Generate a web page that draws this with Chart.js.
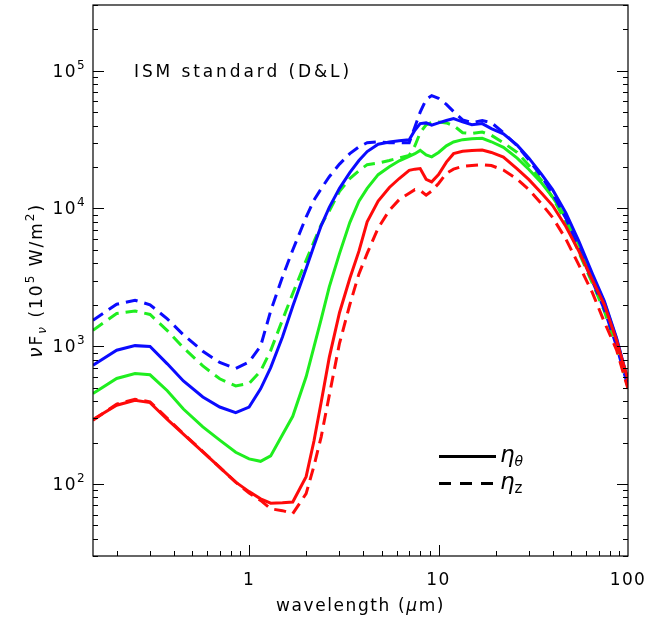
<!DOCTYPE html>
<html>
<head>
<meta charset="utf-8">
<script src="https://cdn.jsdelivr.net/npm/chart.js@4"></script>
<style>
  html, body { margin: 0; padding: 0; background: #fff; }
  canvas { display: block; }
</style>
</head>
<body>
<canvas id="chart" width="667" height="620"></canvas>
<script>
// wavelength grid in micron
const wavelength = [0.15, 0.2, 0.25, 0.3, 0.37, 0.45, 0.57, 0.7, 0.85, 1.0, 1.15, 1.3, 1.5, 1.7, 2.0, 2.2, 2.4, 2.65, 3.0, 3.4, 3.8, 4.2, 4.8, 5.5, 6.2, 7.0, 7.5, 8.0, 8.6, 9.2, 10, 11, 12, 13.4, 15, 17, 19, 22, 26, 30, 35, 40, 47, 55, 65, 75, 87, 100];

// nu F_nu in units of 1e-5 W/m^2, solid = eta_theta, dashed = eta_z
const blueTheta = [728, 936, 1010, 995, 745, 560, 428, 362, 330, 362, 490, 700, 1168, 1950, 3660, 5370, 7480, 10200, 14000, 18200, 22300, 25900, 29300, 30400, 31000, 31500, 37000, 41300, 41800, 40200, 41800, 43500, 45000, 42500, 40600, 41300, 38000, 34800, 28800, 23200, 17700, 13700, 9300, 5800, 3340, 2130, 1150, 560];
const blueZ = [1545, 2018, 2158, 2000, 1580, 1210, 920, 762, 690, 769, 1000, 1800, 3185, 5000, 8670, 11500, 13900, 17000, 21000, 25000, 28000, 30000, 30500, 30000, 30000, 30000, 39000, 50000, 62000, 66000, 63000, 57000, 50500, 44000, 42000, 43500, 42000, 35500, 28500, 22500, 17000, 12800, 8500, 5100, 2950, 1850, 1000, 510];
const greenTheta = [454, 583, 634, 620, 475, 350, 260, 208, 170, 152, 146, 160, 228, 310, 600, 990, 1567, 2700, 4700, 7900, 11300, 14000, 17600, 20100, 22200, 23900, 25000, 26400, 24500, 23700, 25500, 28500, 30400, 31600, 32100, 32300, 30500, 27800, 23200, 19200, 15300, 12100, 8600, 5500, 3200, 2080, 1130, 550];
const greenZ = [1306, 1727, 1803, 1700, 1300, 975, 720, 580, 515, 536, 660, 930, 1550, 2415, 4200, 5740, 7600, 9600, 13300, 16500, 18800, 20800, 21400, 22300, 23300, 24300, 28500, 35500, 40500, 42000, 42500, 41800, 40000, 35500, 35000, 35900, 34000, 30000, 25500, 20500, 16000, 12000, 8000, 4800, 2850, 1800, 980, 500];
const redTheta = [294, 373, 405, 390, 294, 230, 171, 132, 103, 88, 78, 72.5, 73, 74, 113, 205, 390, 830, 1750, 3100, 4900, 8000, 11300, 14200, 16500, 18900, 19300, 19500, 16300, 15600, 17600, 21700, 25000, 26000, 26400, 26600, 25500, 23600, 19400, 16200, 12900, 10500, 7400, 4900, 3000, 2000, 1100, 570];
const redZ = [290, 380, 412, 395, 300, 232, 172, 132, 103, 86, 76, 66, 64, 61, 85, 135, 219, 440, 1050, 2000, 3350, 4720, 7200, 9700, 11600, 12900, 13700, 13500, 12500, 13400, 15200, 18000, 19300, 20200, 20500, 20800, 20500, 19000, 16300, 13700, 10800, 8600, 6000, 3900, 2430, 1500, 940, 490];

const xTickLabels = ['1', '10', '100'];
const yTickExponents = ['2', '3', '4', '5'];

const FONT = '"DejaVu Sans", sans-serif';
const BLUE = '#0b0bff';
const GREEN = '#1fee1f';
const RED = '#ff0a0a';

function points(values) {
	return wavelength.map(function (w, i) {
		return { x: w, y: values[i] };
	});
}

function line(values, color, dashed) {
	return {
		data: points(values),
		borderColor: color,
		borderWidth: 3,
		borderDash: dashed ? [12, 7] : [],
		pointRadius: 0,
		tension: 0,
		fill: false
	};
}

// draws a row of text pieces (sub/superscripts) starting at x, or centred/right aligned
function drawRuns(ctx, runs, x, y, align, spacing) {
	ctx.letterSpacing = (spacing || 0) + 'px';
	let total = 0;
	runs.forEach(function (r) {
		ctx.font = (r.italic ? 'italic ' : '') + r.size + 'px ' + FONT;
		r.w = ctx.measureText(r.text).width;
		total += r.w;
	});
	let cx = x;
	if (align === 'center') cx = x - total / 2;
	if (align === 'right') cx = x - total;
	ctx.textAlign = 'left';
	ctx.textBaseline = 'alphabetic';
	runs.forEach(function (r) {
		ctx.font = (r.italic ? 'italic ' : '') + r.size + 'px ' + FONT;
		ctx.fillText(r.text, cx, y - (r.raise || 0));
		cx += r.w;
	});
	ctx.letterSpacing = '0px';
}

const idlFrame = {
	id: 'idlFrame',
	beforeDraw(chart) {
		const ctx = chart.ctx;
		ctx.save();
		ctx.fillStyle = '#fff';
		ctx.fillRect(0, 0, chart.width, chart.height);
		ctx.restore();
	},
	afterDraw(chart) {
		const ctx = chart.ctx;
		const a = chart.chartArea;
		const xs = chart.scales.x;
		const ys = chart.scales.y;
		ctx.save();
		ctx.strokeStyle = '#000';
		ctx.fillStyle = '#000';
		ctx.lineWidth = 1.2;
		ctx.strokeRect(a.left, a.top, a.right - a.left, a.bottom - a.top);

		// inward ticks, bottom axis
		ctx.lineWidth = 1;
		[0.1, 1, 10].forEach(function (dec) {
			for (let m = 1; m <= 9; m++) {
				const v = m * dec;
				if (v < xs.min || v > xs.max) continue;
				const px = Math.round(xs.getPixelForValue(v)) + 0.5;
				const len = m === 1 ? 11 : 5;
				ctx.beginPath();
				ctx.moveTo(px, a.bottom);
				ctx.lineTo(px, a.bottom - len);
				ctx.stroke();
			}
		});
		// inward ticks, left and right axes
		[10, 100, 1000, 10000, 100000].forEach(function (dec) {
			for (let m = 1; m <= 9; m++) {
				const v = m * dec;
				if (v < ys.min || v > ys.max) continue;
				const py = Math.round(ys.getPixelForValue(v)) + 0.5;
				const len = m === 1 ? 11 : 5;
				ctx.beginPath();
				ctx.moveTo(a.left, py);
				ctx.lineTo(a.left + len, py);
				ctx.moveTo(a.right, py);
				ctx.lineTo(a.right - len, py);
				ctx.stroke();
			}
		});

		// tick labels
		xTickLabels.forEach(function (t) {
			const px = xs.getPixelForValue(parseFloat(t));
			drawRuns(ctx, [{ text: t, size: 17 }], px, 585, 'center', 1.4);
		});
		yTickExponents.forEach(function (e) {
			const py = ys.getPixelForValue(Math.pow(10, parseInt(e, 10)));
			drawRuns(ctx, [{ text: '10', size: 17 }, { text: e, size: 12, raise: 8 }], 86, py + 6, 'right', 1.4);
		});

		// axis titles
		drawRuns(ctx, [{ text: 'wavelength (', size: 17 }, { text: 'μ', size: 17, italic: true }, { text: 'm)', size: 17 }],
			(a.left + a.right) / 2, 611, 'center', 1.6);
		ctx.save();
		ctx.translate(42, (a.top + a.bottom) / 2);
		ctx.rotate(-Math.PI / 2);
		drawRuns(ctx, [
			{ text: 'ν', size: 19, italic: true },
			{ text: 'F', size: 17 },
			{ text: 'ν', size: 12, italic: true, raise: -4 },
			{ text: ' (10', size: 17 },
			{ text: '5', size: 12, raise: 8 },
			{ text: ' W/m', size: 17 },
			{ text: '2', size: 12, raise: 8 },
			{ text: ')', size: 17 }
		], 0, 0, 'center', 2);
		ctx.restore();

		// label in the upper left
		drawRuns(ctx, [{ text: 'ISM standard (D&L)', size: 17 }], 134, 77, 'left', 2.9);

		// line style key
		ctx.lineWidth = 3;
		ctx.beginPath();
		ctx.moveTo(439, 456.5);
		ctx.lineTo(496, 456.5);
		ctx.stroke();
		ctx.setLineDash([12, 9]);
		ctx.beginPath();
		ctx.moveTo(439, 483.5);
		ctx.lineTo(496, 483.5);
		ctx.stroke();
		ctx.setLineDash([]);
		drawRuns(ctx, [{ text: 'η', size: 23, italic: true }, { text: 'θ', size: 14, italic: true, raise: -4 }], 500, 462, 'left', 0);
		drawRuns(ctx, [{ text: 'η', size: 23, italic: true }, { text: 'z', size: 15, raise: -4 }], 500, 489, 'left', 0);
		ctx.restore();
	}
};

new Chart(document.getElementById('chart').getContext('2d'), {
	type: 'line',
	data: {
		datasets: [
			line(redZ, RED, true),
			line(redTheta, RED, false),
			line(blueZ, BLUE, true),
			line(blueTheta, BLUE, false),
			line(greenZ, GREEN, true),
			line(greenTheta, GREEN, false)
		]
	},
	options: {
		responsive: false,
		animation: false,
		devicePixelRatio: 1,
		layout: { padding: { top: 5, right: 39, left: 0, bottom: 0 } },
		plugins: { legend: { display: false }, tooltip: { enabled: false } },
		scales: {
			x: {
				type: 'logarithmic',
				min: 0.15,
				max: 100,
				grid: { display: false },
				border: { display: false },
				ticks: { display: false },
				afterFit(scale) { scale.height = 64; }
			},
			y: {
				type: 'logarithmic',
				min: 30,
				max: 300000,
				grid: { display: false },
				border: { display: false },
				ticks: { display: false },
				afterFit(scale) { scale.width = 93; }
			}
		}
	},
	plugins: [idlFrame]
});
</script>
</body>
</html>
